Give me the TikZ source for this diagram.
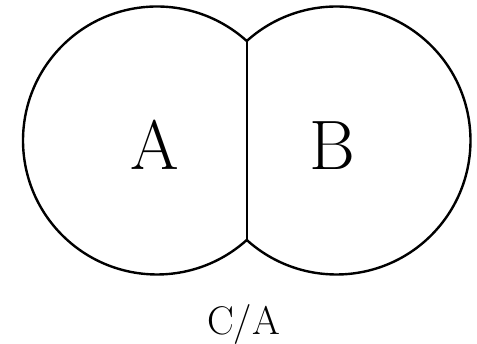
\documentclass[tikz,border=0pt]{standalone}
\begin{document}
\begin{tikzpicture}[x=1pt,y=1pt,
  outline/.style={line width=2.4pt, line join=miter, black},
  biglabel/.style={anchor=base, inner sep=0pt, font=\fontsize{70}{84}\selectfont},
  caption/.style={anchor=base, inner sep=0pt, font=\fontsize{40}{48}\selectfont}]
\useasboundingbox (0,0) rectangle (477,344);
\coordinate (top) at (246.75,303);
\coordinate (bot) at (246.75,104);
\draw[outline] (top) arc[start angle=47.95, end angle=312.05, radius=134]
  arc[start angle=227.95, end angle=492.05, radius=134] -- cycle;
\draw[outline] (top) -- (bot);
\node[biglabel] (A) at (154.5,174) {A};
\node[biglabel] (B) at (332,174) {B};
\node[caption] (C) at (243.5,9.5) {C/A};
\end{tikzpicture}
\end{document}
